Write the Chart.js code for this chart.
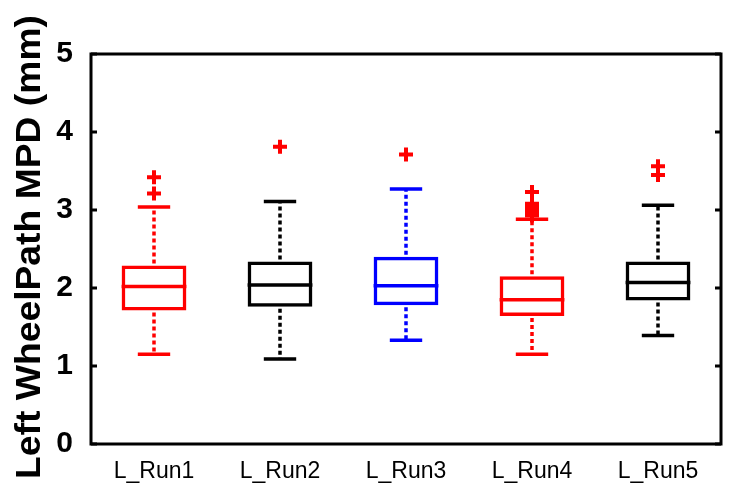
<!DOCTYPE html>
<html>
<head>
<meta charset="utf-8">
<script src="https://cdn.jsdelivr.net/npm/chart.js@4"></script>
<style>
  html, body { margin: 0; padding: 0; background: #fff; }
  canvas { display: block; }
</style>
</head>
<body>
<canvas id="c" width="732" height="487"></canvas>
<script>
// Mean profile depth per run, left wheel path (mm)
const runs = ['L_Run1', 'L_Run2', 'L_Run3', 'L_Run4', 'L_Run5'];
const q1 = [1.71, 1.76, 1.78, 1.64, 1.84];
const q3 = [2.29, 2.34, 2.40, 2.15, 2.34];
const medians = [2.02, 2.04, 2.03, 1.85, 2.07];
const whiskerLow = [1.15, 1.09, 1.33, 1.15, 1.39];
const whiskerHigh = [3.04, 3.11, 3.27, 2.88, 3.06];
const outliers = [
  [3.42, 3.21],
  [3.81],
  [3.71],
  [3.23, 3.08, 3.04, 3.00, 2.96, 2.93],
  [3.56, 3.45]
];
const boxColors = ['#ff0000', '#000000', '#0000ff', '#ff0000', '#000000'];
const yTicks = [0, 1, 2, 3, 4, 5];
const yTitle = 'Left WheelPath MPD (mm)';

const outlierPoints = [];
outliers.forEach((vals, i) => vals.forEach(v => outlierPoints.push({ x: runs[i], y: v })));

// Whiskers, caps and median lines, placed with the chart's own scales
const boxExtras = {
  id: 'boxExtras',
  afterDatasetsDraw(chart) {
    const ctx = chart.ctx;
    const ys = chart.scales.y;
    const bars = chart.getDatasetMeta(0).data;
    ctx.save();
    bars.forEach((bar, i) => {
      const cx = bar.x;
      const half = bar.width / 2;
      const yQ1 = ys.getPixelForValue(q1[i]);
      const yQ3 = ys.getPixelForValue(q3[i]);
      const yLo = ys.getPixelForValue(whiskerLow[i]);
      const yHi = ys.getPixelForValue(whiskerHigh[i]);
      const yMed = ys.getPixelForValue(medians[i]);
      ctx.strokeStyle = boxColors[i];
      // dotted whisker stems
      ctx.lineWidth = 3.5;
      ctx.setLineDash([4, 3]);
      ctx.beginPath();
      ctx.moveTo(cx, yQ3 - 2); ctx.lineTo(cx, yHi);
      ctx.moveTo(cx, yQ1 + 2); ctx.lineTo(cx, yLo);
      ctx.stroke();
      ctx.setLineDash([]);
      // caps
      ctx.lineWidth = 3.5;
      ctx.beginPath();
      ctx.moveTo(cx - half / 2, yHi); ctx.lineTo(cx + half / 2, yHi);
      ctx.moveTo(cx - half / 2, yLo); ctx.lineTo(cx + half / 2, yLo);
      // median
      ctx.moveTo(cx - half, yMed); ctx.lineTo(cx + half, yMed);
      ctx.stroke();
    });
    ctx.restore();
  }
};

// Closed frame with inward ticks on both vertical sides, plus the y title
const frame = {
  id: 'frame',
  afterDraw(chart) {
    const ctx = chart.ctx;
    const a = chart.chartArea;
    const ys = chart.scales.y;
    ctx.save();
    ctx.strokeStyle = '#000';
    ctx.lineWidth = 3;
    ctx.strokeRect(a.left, a.top, a.right - a.left, a.bottom - a.top);
    ctx.beginPath();
    ys.ticks.forEach(t => {
      const y = ys.getPixelForValue(t.value);
      ctx.moveTo(a.left, y); ctx.lineTo(a.left + 6, y);
      ctx.moveTo(a.right, y); ctx.lineTo(a.right - 6, y);
    });
    ctx.stroke();

    ctx.font = 'bold 35px "Liberation Sans", Arial, sans-serif';
    ctx.fillStyle = '#000';
    ctx.textAlign = 'center';
    ctx.textBaseline = 'alphabetic';
    const w = ctx.measureText(yTitle).width;
    const targetLen = 464;
    ctx.translate(40, (a.top + a.bottom) / 2 - 2);
    ctx.rotate(-Math.PI / 2);
    ctx.scale(targetLen / w, 1);
    ctx.fillText(yTitle, 0, 0);
    ctx.restore();
  }
};

new Chart(document.getElementById('c'), {
  data: {
    labels: runs,
    datasets: [
      {
        type: 'bar',
        data: runs.map((r, i) => [q1[i], q3[i]]),
        backgroundColor: 'rgba(0,0,0,0)',
        borderColor: boxColors,
        borderWidth: 3.5,
        borderSkipped: false,
        barPercentage: 0.514,
        categoryPercentage: 1
      },
      {
        type: 'line',
        data: outlierPoints,
        showLine: false,
        pointStyle: 'cross',
        pointRadius: 7,
        pointBorderWidth: 4,
        pointBorderColor: '#ff0000',
        borderColor: '#ff0000'
      }
    ]
  },
  options: {
    responsive: false,
    animation: false,
    devicePixelRatio: 1,
    layout: { padding: { left: 0, right: 3, top: 54, bottom: 0 } },
    plugins: { legend: { display: false }, tooltip: { enabled: false } },
    scales: {
      x: {
        type: 'category',
        offset: true,
        grid: { display: false },
        border: { display: false },
        ticks: {
          color: '#000',
          font: { family: '"Liberation Sans", Arial, sans-serif', size: 23 },
          padding: 6,
          maxRotation: 0,
          autoSkip: false
        },
        afterFit(s) { s.height = 43; }
      },
      y: {
        min: 0,
        max: 5,
        afterBuildTicks(s) { s.ticks = yTicks.map(v => ({ value: v })); },
        grid: { display: false },
        border: { display: false },
        ticks: {
          color: '#000',
          font: { family: '"Liberation Sans", Arial, sans-serif', size: 30, weight: 'bold' },
          padding: 10
        },
        afterFit(s) { s.width = 91; }
      }
    }
  },
  plugins: [boxExtras, frame]
});
</script>
</body>
</html>
